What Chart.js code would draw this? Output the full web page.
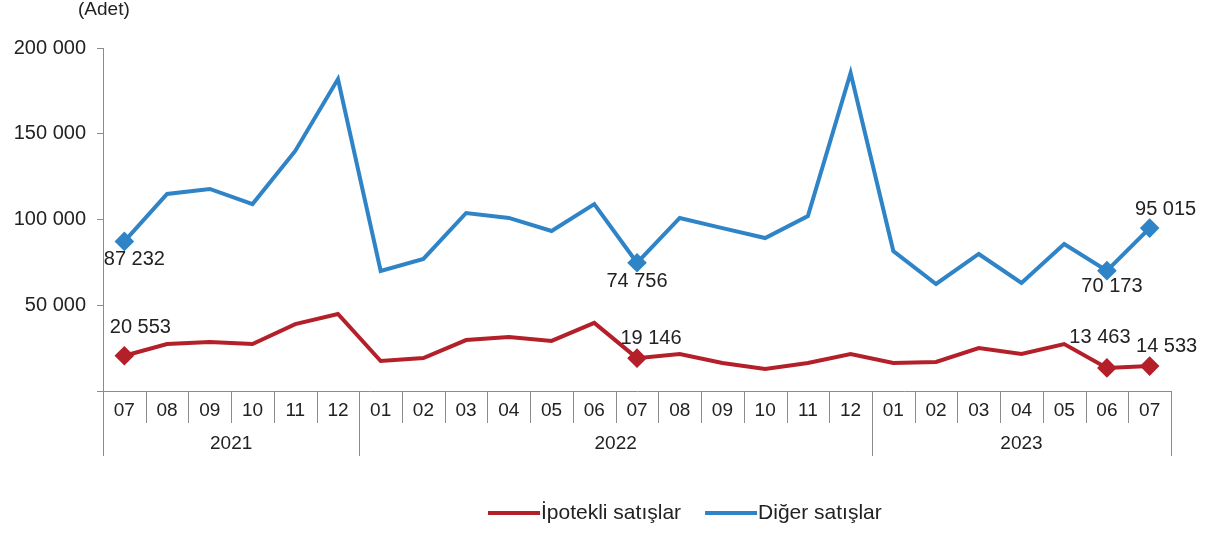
<!DOCTYPE html>
<html>
<head>
<meta charset="utf-8">
<script src="https://cdn.jsdelivr.net/npm/chart.js@4.4.0/dist/chart.umd.min.js"></script>
<style>
  html, body { margin: 0; padding: 0; background: #fff; }
  #wrap { width: 1210px; height: 537px; }
</style>
</head>
<body>
<div id="wrap"><canvas id="c" width="1210" height="537"></canvas></div>
<script>
// months shown on the axis, with the year groups below them
const months = ["07","08","09","10","11","12","01","02","03","04","05","06","07","08","09","10","11","12","01","02","03","04","05","06","07"];
const years = [
  { label: "2021", from: 0, to: 5 },
  { label: "2022", from: 6, to: 17 },
  { label: "2023", from: 18, to: 24 }
];

// İpotekli satışlar (mortgaged sales)
const ipotekli = [20553, 27400, 28600, 27400, 39000, 44900, 17500, 19200, 29700, 31500, 29200, 39700, 19146,
  21600, 16300, 12800, 16300, 21600, 16300, 16900, 25000, 21600, 27400, 13463, 14533];
// Diğer satışlar (other sales)
const diger = [87232, 114900, 117800, 109000, 140000, 181900, 70000, 77000, 103800, 100900, 93300, 109000, 74756,
  100900, 95000, 89200, 102000, 185400, 81600, 62400, 79900, 63000, 85700, 70173, 95015];

const labelled = [0, 12, 23, 24];

// where each value label sits relative to its point
const redOffsets = { 0: [16, -28], 12: [14, -20], 23: [-7, -30], 24: [17, -20] };
const blueOffsets = { 0: [10, 18], 12: [0, 19], 23: [5, 16], 24: [16, -19] };

const RED = "#b3202a";
const BLUE = "#2e84c6";
const FONT = "'Liberation Sans', Arial, sans-serif";

const fmt = (v) => String(v).replace(/\B(?=(\d{3})+(?!\d))/g, " ");
const radii = (n) => Array.from({ length: n }, (_, i) => (labelled.includes(i) ? 7 : 0));

const extras = {
  id: "extras",
  afterDraw(chart) {
    const { ctx, chartArea } = chart;
    const x = chart.scales.x;
    const step = (chartArea.right - chartArea.left) / months.length;
    const base = chartArea.bottom;
    ctx.save();
    ctx.strokeStyle = "#8c8c8c";
    ctx.lineWidth = 1;

    // separators between months, longer ones between years
    const yearEdges = new Set(years.map((y) => y.from).concat([months.length]));
    for (let i = 0; i <= months.length; i++) {
      const px = Math.round(chartArea.left + i * step) + 0.5;
      ctx.beginPath();
      ctx.moveTo(px, base);
      ctx.lineTo(px, yearEdges.has(i) ? base + 65 : base + 32);
      ctx.stroke();
    }

    ctx.fillStyle = "#222";
    ctx.textAlign = "center";
    ctx.textBaseline = "middle";
    ctx.font = "19px " + FONT;
    months.forEach((m, i) => ctx.fillText(m, x.getPixelForValue(i), base + 20));
    years.forEach((y) => {
      const cx = (x.getPixelForValue(y.from) + x.getPixelForValue(y.to)) / 2;
      ctx.fillText(y.label, cx, base + 53);
    });

    // value labels
    ctx.font = "20px " + FONT;
    [[0, redOffsets], [1, blueOffsets]].forEach(([di, offs]) => {
      const meta = chart.getDatasetMeta(di);
      const data = chart.data.datasets[di].data;
      labelled.forEach((i) => {
        const p = meta.data[i];
        const [dx, dy] = offs[i];
        ctx.fillText(fmt(data[i]), p.x + dx, p.y + dy);
      });
    });

    // unit note
    ctx.textAlign = "left";
    ctx.font = "19px " + FONT;
    ctx.fillText("(Adet)", 78, 10);

    // legend
    ctx.font = "21px " + FONT;
    let lx = 488;
    const ly = 513;
    chart.data.datasets.forEach((ds) => {
      ctx.strokeStyle = ds.borderColor;
      ctx.lineWidth = 4;
      ctx.beginPath();
      ctx.moveTo(lx, ly);
      ctx.lineTo(lx + 52, ly);
      ctx.stroke();
      ctx.fillStyle = "#222";
      ctx.fillText(ds.label, lx + 53, ly);
      lx += 53 + ctx.measureText(ds.label).width + 24;
    });
    ctx.restore();
  }
};

new Chart(document.getElementById("c"), {
  type: "line",
  data: {
    labels: months,
    datasets: [
      {
        label: "İpotekli satışlar",
        data: ipotekli,
        borderColor: RED,
        backgroundColor: RED,
        borderWidth: 4,
        pointStyle: "rectRot",
        pointRadius: radii(ipotekli.length),
        pointHoverRadius: 0,
        tension: 0
      },
      {
        label: "Diğer satışlar",
        data: diger,
        borderColor: BLUE,
        backgroundColor: BLUE,
        borderWidth: 4,
        pointStyle: "rectRot",
        pointRadius: radii(diger.length),
        pointHoverRadius: 0,
        tension: 0
      }
    ]
  },
  options: {
    responsive: false,
    animation: false,
    events: [],
    layout: { padding: { top: 48, right: 39, bottom: 0, left: 0 } },
    plugins: {
      legend: { display: false },
      tooltip: { enabled: false }
    },
    scales: {
      x: {
        offset: true,
        grid: { display: false },
        border: { display: true, color: "#8c8c8c", width: 1 },
        ticks: { display: false },
        afterFit: (s) => { s.height = 146; }
      },
      y: {
        min: 0,
        max: 200000,
        grid: { display: true, drawOnChartArea: false, drawTicks: true, tickLength: 6, color: "#8c8c8c" },
        border: { display: true, color: "#8c8c8c", width: 1 },
        ticks: {
          stepSize: 50000,
          padding: 11,
          color: "#222",
          font: { family: FONT, size: 20 },
          callback: (v) => (v === 0 ? "" : fmt(v))
        },
        afterFit: (s) => { s.width = 103; }
      }
    }
  },
  plugins: [extras]
});
</script>
</body>
</html>
